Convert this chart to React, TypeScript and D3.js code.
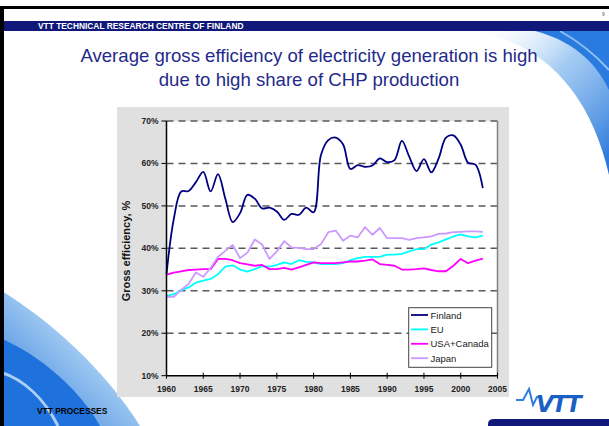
import React from "react";
import * as d3 from "d3";

const years = d3.range(1960, 2004);
const finland = [34, 47, 53.4, 53.5, 55.6, 58, 53.4, 57.5, 51.7, 46.2, 48.3, 52.6, 51.7, 49.4, 49.6, 48.7, 46.7, 48.1, 47.9, 49.6, 48.5, 62, 65.5, 66.1, 64.5, 58.7, 59.6, 59.2, 59.5, 61.2, 60.3, 60.8, 65.3, 61.6, 58.2, 61, 57.9, 61.2, 66.1, 66.6, 64.4, 60.2, 59.7, 54.2];
const eu = [28.8, 29.2, 30.1, 30.8, 31.9, 32.4, 32.8, 33.9, 35.7, 36.0, 35.0, 34.5, 35.1, 35.8, 35.7, 36.1, 36.7, 36.3, 37.2, 36.8, 36.7, 36.3, 36.3, 36.3, 36.5, 37.2, 37.7, 38.0, 38.0, 38.0, 38.5, 38.5, 38.7, 39.3, 39.8, 39.8, 40.9, 41.4, 42.1, 42.8, 43.3, 42.8, 42.6, 43.0];
const usaCanada = [33.8, 34.3, 34.6, 34.9, 35.0, 35.1, 35.1, 37.5, 37.5, 37.2, 36.5, 36.2, 35.9, 36.1, 35.1, 35.1, 35.4, 35.0, 35.5, 36.1, 36.7, 36.5, 36.5, 36.5, 36.7, 36.9, 36.9, 37.1, 37.4, 36.3, 36.1, 35.9, 35.0, 35.0, 35.1, 35.3, 34.9, 34.6, 34.6, 35.9, 37.5, 36.5, 37.1, 37.6];
const japan = [28.6, 28.6, 30.2, 31.6, 34.3, 33.3, 35.4, 38.0, 39.4, 40.8, 37.7, 39.0, 42.1, 40.9, 37.5, 39.3, 41.7, 40.2, 40.1, 39.8, 39.8, 41.0, 43.8, 44.2, 41.8, 43.0, 42.6, 45.0, 43.2, 44.8, 42.4, 42.4, 42.4, 42.0, 42.4, 42.6, 42.8, 43.4, 43.5, 43.8, 43.9, 44.0, 44.0, 43.9];

const seriesNames = ["Finland", "EU", "USA+Canada", "Japan"];
const seriesColors = ["#000080", "#00FFFF", "#FF00FF", "#CC99FF"];
const seriesValues = [finland, eu, usaCanada, japan];
const xTicks = d3.range(1960, 2006, 5);
const yTicks = [10, 20, 30, 40, 50, 60, 70];

const titleLines = ["Average gross efficiency of electricity generation is high", "due to high share of CHP production"];

export default function App() {
  const x = d3.scaleLinear().domain([1960, 2005]).range([166.5, 497.5]);
  const y = d3.scaleLinear().domain([10, 70]).range([375.7, 121]);
  const font = "'Liberation Sans', Arial, sans-serif";

  const makeLine = (smooth: boolean) =>
    d3
      .line<number>()
      .x((_, i) => x(years[i]))
      .y((d) => y(d))
      .curve(smooth ? d3.curveCatmullRom.alpha(0.5) : d3.curveLinear);

  return (
    <svg width={609} height={426} style={{ position: "absolute", left: 0, top: 0 }} fontFamily={font}>
      <defs>
        <linearGradient id="trg" x1="0" y1="0" x2="1" y2="1">
          <stop offset="0" stopColor="#ffffff" stopOpacity="0" />
          <stop offset="0.45" stopColor="#7fb6ee" stopOpacity="0.7" />
          <stop offset="1" stopColor="#1d6fd8" stopOpacity="1" />
        </linearGradient>
        <linearGradient id="blg" x1="1" y1="0" x2="0" y2="1">
          <stop offset="0" stopColor="#ffffff" stopOpacity="0" />
          <stop offset="0.4" stopColor="#8fc2f0" stopOpacity="0.8" />
          <stop offset="1" stopColor="#1a6ad6" stopOpacity="1" />
        </linearGradient>
      </defs>
      <rect x={0} y={0} width={609} height={426} fill="#ffffff" />

      {/* top-right swoosh */}
      <path d="M470,31 C540,40 590,90 609,175 L609,31 Z" fill="url(#trg)" />
      <path d="M535,31 C570,40 595,60 609,90 L609,31 Z" fill="#2a7be0" />
      <path d="M560,31 C585,45 600,60 609,70" fill="none" stroke="#a8d0f8" strokeWidth={2} opacity={0.8} />

      {/* bottom-left swoosh */}
      <path d="M0,290 C50,320 105,370 140,426 L0,426 Z" fill="url(#blg)" />
      <path d="M0,338 C40,355 80,390 100,426 L0,426 Z" fill="#1f72dc" />
      <path d="M0,372 C25,380 45,400 58,426" fill="none" stroke="#cfe6fb" strokeWidth={3} opacity={0.8} />

      {/* frame */}
      <rect x={0} y={6} width={609} height={3} fill="#000" />
      <rect x={0} y={6} width={4} height={420} fill="#000" />
      <rect x={4} y={21} width={605} height={10} fill="#10197a" />
      <text x={38} y={28.8} fontSize={8.4} fontWeight="bold" fill="#ffffff">VTT TECHNICAL RESEARCH CENTRE OF FINLAND</text>
      <text x={602} y={16} fontSize={5} fill="#555">9</text>

      {titleLines.map((t, i) => (
        <text key={i} x={309} y={62 + i * 24} fontSize={18.6} textAnchor="middle" fill="#1f2a8a">{t}</text>
      ))}

      {/* chart area */}
      <rect x={117} y={107} width={392} height={290} fill="#e0e0e0" />
      <rect x={x(1960)} y={y(70)} width={x(2005) - x(1960)} height={y(10) - y(70)} fill="#ffffff" />

      {yTicks.filter((v) => v > 10).map((v) => (
        <line key={v} x1={x(1960)} x2={x(2005)} y1={y(v)} y2={y(v)} stroke="#5a5a5a" strokeWidth={1.5} strokeDasharray="7,5" />
      ))}
      <line x1={x(2005)} x2={x(2005)} y1={y(70)} y2={y(10)} stroke="#808080" strokeWidth={1.5} />

      {seriesValues.map((vals, i) => (
        <path key={i} d={makeLine(i === 0)(vals) || ""} fill="none" stroke={seriesColors[i]} strokeWidth={1.8} strokeLinejoin="round" />
      ))}

      {/* axes */}
      <line x1={x(1960)} x2={x(1960)} y1={y(70)} y2={y(10)} stroke="#000" strokeWidth={1.5} />
      <line x1={x(1960)} x2={x(2005)} y1={y(10)} y2={y(10)} stroke="#000" strokeWidth={1.5} />
      {yTicks.map((v) => (
        <g key={v}>
          <line x1={x(1960) - 5} x2={x(1960)} y1={y(v)} y2={y(v)} stroke="#000" strokeWidth={1} />
          <text x={x(1960) - 8} y={y(v) + 3} fontSize={8.5} fontWeight="bold" textAnchor="end" fill="#222">{v}%</text>
        </g>
      ))}
      {xTicks.map((v) => (
        <g key={v}>
          <line x1={x(v)} x2={x(v)} y1={y(10) - 3} y2={y(10) + 3} stroke="#000" strokeWidth={1} />
          <text x={x(v)} y={y(10) + 16} fontSize={8.5} fontWeight="bold" textAnchor="middle" fill="#222">{v}</text>
        </g>
      ))}
      <text transform={`translate(130,251) rotate(-90)`} fontSize={11} fontWeight="bold" textAnchor="middle" fill="#111">Gross efficiency, %</text>

      {/* legend */}
      <rect x={408.7} y={307.7} width={83} height={59.6} fill="#fff" stroke="#444" strokeWidth={1} />
      {seriesNames.map((n, i) => (
        <g key={n}>
          <line x1={411} x2={428} y1={315 + i * 14.4} y2={315 + i * 14.4} stroke={seriesColors[i]} strokeWidth={1.8} />
          <text x={430.5} y={318.5 + i * 14.4} fontSize={9.5} fill="#222">{n}</text>
        </g>
      ))}

      {/* footer */}
      <text x={37} y={413.5} fontSize={8.4} fontWeight="bold" fill="#000">VTT PROCESSES</text>
      <path d="M488,426 L488,424 Q488,419 494,419 L609,419 L609,426 Z" fill="#10197a" />
      <polyline points="516,400 523,400 529,389 533,405 537,397 541,397" fill="none" stroke="#2b7fe0" strokeWidth={2} />
      <text x={536} y={412} fontSize={23} fontWeight="900" fontStyle="italic" fill="#1a5fc4" letterSpacing={-2} fontFamily="'DejaVu Sans', sans-serif">VTT</text>
    </svg>
  );
}
